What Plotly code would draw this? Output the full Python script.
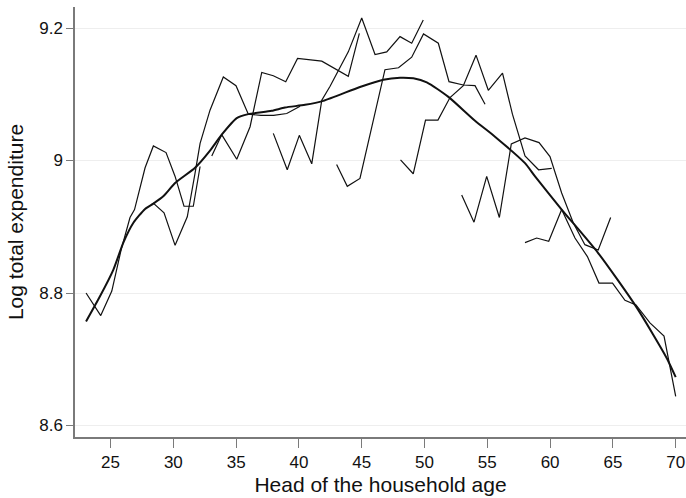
import plotly.graph_objects as go

# ---- data ----
cohort1_age = [23.05, 24.22, 25.10, 25.84, 26.55, 26.91, 27.75, 28.41, 29.42, 30.14, 30.85, 31.59, 32.13]
cohort1_val = [8.800, 8.766, 8.803, 8.865, 8.914, 8.926, 8.989, 9.022, 9.012, 8.976, 8.931, 8.931, 8.991]

cohort2_age = [28.38, 29.26, 30.14, 31.11, 31.73, 32.13, 32.92, 33.98, 34.99, 35.97, 36.98, 37.98, 39.03, 40.09]
cohort2_val = [8.936, 8.921, 8.872, 8.915, 8.981, 9.026, 9.076, 9.126, 9.113, 9.070, 9.068, 9.068, 9.071, 9.082]

cohort3_age = [33.06, 33.85, 35.05, 36.11, 37.04, 37.96, 38.95, 39.89, 41.82, 43.93, 44.81]
cohort3_val = [9.007, 9.039, 9.002, 9.051, 9.133, 9.128, 9.119, 9.154, 9.150, 9.127, 9.192]

cohort4_age = [37.96, 39.07, 40.03, 41.02, 41.82, 42.48, 43.93, 45.00, 46.06, 46.99, 48.05, 48.98, 49.90]
cohort4_val = [9.041, 8.986, 9.038, 8.995, 9.091, 9.112, 9.164, 9.215, 9.160, 9.164, 9.187, 9.177, 9.212]

cohort5_age = [43.00, 43.85, 44.86, 46.85, 47.93, 48.98, 49.92, 51.10, 51.95, 53.09, 54.02, 54.82]
cohort5_val = [8.994, 8.961, 8.973, 9.137, 9.140, 9.156, 9.191, 9.177, 9.119, 9.114, 9.113, 9.085]

cohort6_age = [48.09, 49.10, 50.08, 51.07, 52.03, 53.09, 54.10, 55.08, 56.21, 57.00, 58.00, 59.08, 60.13]
cohort6_val = [9.001, 8.980, 9.061, 9.061, 9.095, 9.113, 9.159, 9.106, 9.132, 9.070, 9.007, 8.986, 8.988]

cohort7_age = [52.96, 53.94, 54.95, 55.96, 56.91, 58.00, 59.12, 59.99, 60.92, 61.84, 62.77, 63.83, 64.82]
cohort7_val = [8.948, 8.907, 8.976, 8.914, 9.025, 9.034, 9.027, 9.006, 8.951, 8.906, 8.873, 8.865, 8.914]

cohort8_age = [58.00, 58.93, 59.89, 60.92, 61.98, 62.97, 63.89, 64.97, 65.96, 66.84, 67.95, 69.07, 70.00]
cohort8_val = [8.876, 8.883, 8.878, 8.926, 8.883, 8.855, 8.815, 8.815, 8.789, 8.782, 8.755, 8.735, 8.644]

smooth_age = [23.05, 24.16, 25.22, 26.02, 26.82, 27.75, 28.41, 29.20, 30.14, 31.73, 32.92, 33.85,
              35.05, 35.97, 37.83, 38.89, 40.49, 41.94, 44.86, 46.72, 48.05, 49.11, 50.18, 51.90,
              54.02, 55.61, 58.00, 58.80, 60.92, 63.84, 66.90, 69.28, 70.00]
smooth_val = [8.757, 8.795, 8.835, 8.876, 8.906, 8.927, 8.935, 8.946, 8.966, 8.989, 9.015, 9.039,
              9.064, 9.070, 9.075, 9.080, 9.084, 9.090, 9.111, 9.122, 9.125, 9.124, 9.118, 9.096,
              9.060, 9.036, 8.996, 8.976, 8.926, 8.860, 8.778, 8.702, 8.673]

x_ticks = [25, 30, 35, 40, 45, 50, 55, 60, 65, 70]
y_ticks = [8.6, 8.8, 9.0, 9.2]
y_tick_labels = ["8.6", "8.8", "9", "9.2"]

cohorts = [
    (cohort1_age, cohort1_val), (cohort2_age, cohort2_val), (cohort3_age, cohort3_val),
    (cohort4_age, cohort4_val), (cohort5_age, cohort5_val), (cohort6_age, cohort6_val),
    (cohort7_age, cohort7_val), (cohort8_age, cohort8_val),
]

fig = go.Figure()
for ages, vals in cohorts:
    fig.add_trace(go.Scatter(x=ages, y=vals, mode="lines",
                             line=dict(color="#111111", width=1.2),
                             showlegend=False, hoverinfo="skip"))
fig.add_trace(go.Scatter(x=smooth_age, y=smooth_val, mode="lines",
                         line=dict(color="#111111", width=2.0, shape="spline", smoothing=0.6),
                         showlegend=False, hoverinfo="skip"))

axis_col = "#7a7a7a"
font_family = "Liberation Sans, Arial, sans-serif"

fig.update_layout(
    width=686, height=498,
    margin=dict(l=75, r=0, t=7, b=61),
    paper_bgcolor="white", plot_bgcolor="white",
    font=dict(family=font_family, color="#111111"),
    xaxis=dict(
        range=[22.17, 70.82], tickvals=x_ticks, ticks="outside", ticklen=9,
        tickcolor=axis_col, tickwidth=1.2, showline=True, linecolor=axis_col, linewidth=1.5,
        showgrid=False, zeroline=False, tickfont=dict(size=17, family=font_family),
        automargin=False,
        title=dict(text="Head of the household age", font=dict(size=21, family=font_family), standoff=6),
    ),
    yaxis=dict(
        range=[8.5827, 9.2317], tickvals=y_ticks, ticktext=y_tick_labels, ticks="outside", ticklen=7,
        tickcolor=axis_col, tickwidth=1.2, showline=True, linecolor=axis_col, linewidth=1.5,
        showgrid=True, gridcolor="#eeeeee", gridwidth=1, zeroline=False,
        tickfont=dict(size=17, family=font_family),
        automargin=False,
        title=dict(text="Log total expenditure", font=dict(size=21, family=font_family), standoff=10),
    ),
)

fig.write_html("out.html",
               config={"displayModeBar": False},
               post_script="document.body.style.margin='0px';document.body.style.overflow='hidden';")
